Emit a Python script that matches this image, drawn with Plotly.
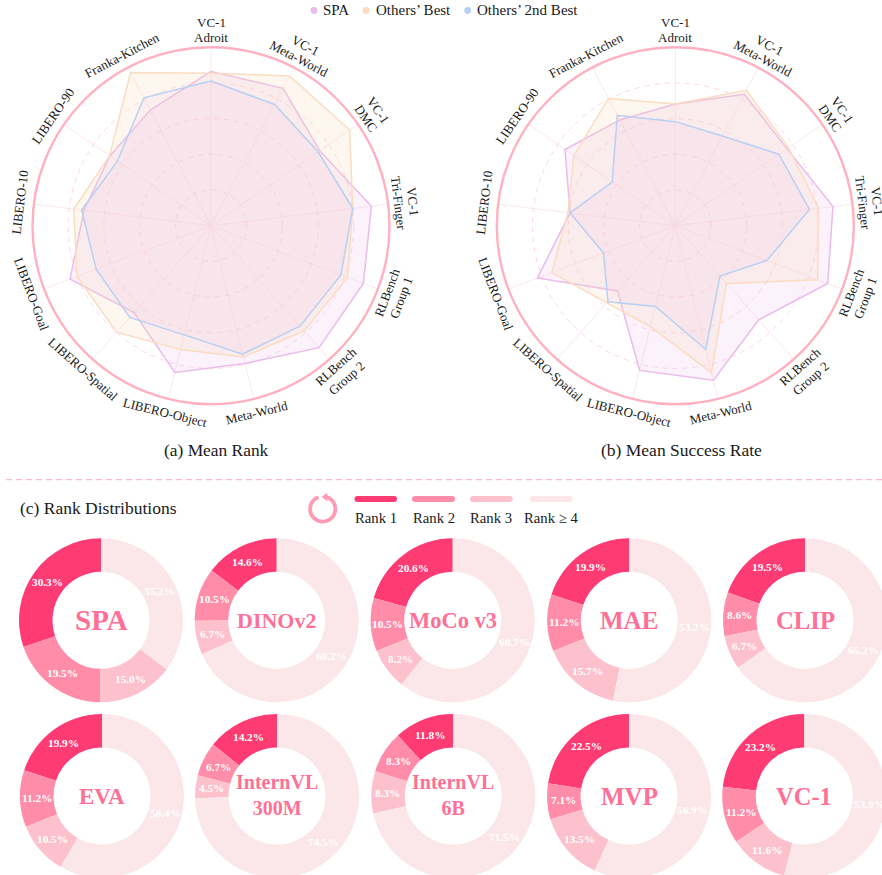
import math
import plotly.graph_objects as go

W, H = 890, 880
SERIF = "Liberation Serif"

radar_categories = ["VC-1<br>Adroit", "VC-1<br>Meta-World", "VC-1<br>DMC", "VC-1<br>Tri-Finger",
                    "RLBench<br>Group 1", "RLBench<br>Group 2", "Meta-World", "LIBERO-Object",
                    "LIBERO-Spatial", "LIBERO-Goal", "LIBERO-10", "LIBERO-90", "Franka-Kitchen"]

rank_spa = [.864, .869, .74, .905, .913, .913, .795, .847, .65, .844, .717, .688, .732]
rank_best = [.854, .947, .944, .80, .818, .787, .757, .715, .797, .803, .774, .69, .97]
rank_second = [.811, .767, .729, .80, .778, .752, .741, .63, .686, .688, .73, .637, .809]

succ_spa = [.682, .832, .76, .89, .913, .705, .892, .835, .488, .826, .594, .751, .669]
succ_best = [.682, .857, .77, .809, .853, .432, .849, .583, .577, .74, .606, .691, .805]
succ_second = [.583, .568, .705, .757, .549, .377, .714, .466, .569, .43, .594, .43, .699]

series_names = ["SPA", "Others’ Best", "Others’ 2nd Best"]
line_colors = ["#E9BCE9", "#FBDCC2", "#B9D0F3"]
fill_colors = ["rgba(235,190,235,0.20)", "rgba(250,215,180,0.20)", "rgba(245,193,231,0.16)"]

rank_names = ["Rank 1", "Rank 2", "Rank 3", "Rank ≥ 4"]
rank_colors = ["#FF3B74", "#FF8CA9", "#FDC0CD", "#FBE6EA"]

model_names = ["SPA", "DINOv2", "MoCo v3", "MAE", "CLIP",
               "EVA", "InternVL<br>300M", "InternVL<br>6B", "MVP", "VC-1"]
model_font = [29, 22, 22.5, 25, 24.7, 23, 20, 20, 25, 24.5]
rank_dist = [
    [30.3, 19.5, 15.0, 35.2],
    [14.6, 10.5, 6.7, 68.2],
    [20.6, 10.5, 8.2, 60.7],
    [19.9, 11.2, 15.7, 53.2],
    [19.5, 8.6, 6.7, 65.2],
    [19.9, 11.2, 10.5, 58.4],
    [14.2, 6.7, 4.5, 74.5],
    [11.8, 8.3, 8.3, 71.5],
    [22.5, 7.1, 13.5, 56.9],
    [23.2, 11.2, 11.6, 53.9],
]

def X(p):
    return p / W

def Y(p):
    return 1 - p / H

fig = go.Figure()
annotations = []
shapes = []

def note(px, py, text, size, color="#1a1a1a", angle=0, bold=False, xanchor="center"):
    if bold:
        text = f"<b>{text}</b>"
    annotations.append(dict(x=X(px), y=Y(py), xref="paper", yref="paper", text=text, showarrow=False,
                            xanchor=xanchor, yanchor="middle", textangle=angle,
                            font=dict(family=SERIF, size=size, color=color)))

RAD = 178.5
CY = 225.7
radars = [("polar", 211, [rank_spa, rank_best, rank_second]),
          ("polar2", 675.3, [succ_spa, succ_best, succ_second])]
n = len(radar_categories)
LINE_GAP = 15.3
for name, cx, series in radars:
    for vals, nm, lc, fc in zip(series, series_names, line_colors, fill_colors):
        fig.add_trace(go.Scatterpolar(
            r=vals + vals[:1], theta=radar_categories + radar_categories[:1],
            subplot=name, mode="lines", name=nm, fill="toself", fillcolor=fc,
            line=dict(color=lc, width=1.5), showlegend=False, hoverinfo="skip"))
    fig.layout[name] = dict(
        domain=dict(x=[X(cx - RAD), X(cx + RAD)], y=[Y(CY + RAD), Y(CY - RAD)]),
        bgcolor="white",
        radialaxis=dict(range=[0, 1], tickvals=[.2, .4, .6, .8], showticklabels=False, ticks="",
                        showline=False, gridcolor="#FFD6E0", griddash="5px,5px", gridwidth=1.3),
        angularaxis=dict(type="category", categoryorder="array", categoryarray=radar_categories,
                         direction="clockwise", rotation=90, showticklabels=False, ticks="",
                         showline=True, linecolor="#FFB1C1", linewidth=2.4,
                         gridcolor="#FCE8ED", gridwidth=1),
    )
    for i, lab in enumerate(radar_categories):
        deg = 360 * i / n
        if deg <= 90:
            ang = deg
        elif deg < 270:
            ang = deg - 180
        else:
            ang = deg - 360
        parts = lab.split("<br>")
        # line 0 is the upper line in the label's own reading frame
        up = 1 if (deg <= 90 or deg >= 270) else -1
        base = 196 if len(parts) == 2 else 192.5
        for j, part in enumerate(parts):
            off = (0.5 - j) * LINE_GAP * up if len(parts) == 2 else 0
            rr = base + off
            px = cx + rr * math.sin(math.radians(deg))
            py = CY - rr * math.cos(math.radians(deg))
            note(px, py, part, 13, angle=ang)

note(216.7, 450, "(a) Mean Rank", 17.4)
note(681, 450, "(b) Mean Success Rate", 17.5)
note(17.5, 508, "(c) Rank Distributions", 17.5, xanchor="left")

# top legend
legend_dots = [(314, 320.5), (366, 373.5), (467.7, 474.5)]
for (dx, tx), nm, lc in zip(legend_dots, series_names, line_colors):
    shapes.append(dict(type="circle", xref="paper", yref="paper", x0=X(dx - 3.4), x1=X(dx + 3.4),
                       y0=Y(10.5 + 3.4), y1=Y(10.5 - 3.4), fillcolor=lc, line=dict(width=0)))
    note(tx, 10, nm, 15, xanchor="left")

# divider
shapes.append(dict(type="line", xref="paper", yref="paper", x0=X(6), x1=X(882), y0=Y(479.7), y1=Y(479.7),
                   line=dict(color="#FFB6C8", width=1.2, dash="6px,4px")))

# rank legend bars
def rounded_bar(x0, x1, yc, h):
    r = h / 2
    return (f"M {X(x0 + r)} {Y(yc - r)} L {X(x1 - r)} {Y(yc - r)} "
            f"Q {X(x1)} {Y(yc - r)} {X(x1)} {Y(yc)} Q {X(x1)} {Y(yc + r)} {X(x1 - r)} {Y(yc + r)} "
            f"L {X(x0 + r)} {Y(yc + r)} Q {X(x0)} {Y(yc + r)} {X(x0)} {Y(yc)} "
            f"Q {X(x0)} {Y(yc - r)} {X(x0 + r)} {Y(yc - r)} Z")

bar_spans = [(354.5, 397), (412, 455), (470, 512.7), (530, 572.7)]
label_centers = [375.5, 433.5, 491, 551]
for (x0, x1), c, nm, lc in zip(bar_spans, rank_colors, rank_names, label_centers):
    shapes.append(dict(type="path", xref="paper", yref="paper", path=rounded_bar(x0, x1, 499, 6),
                       fillcolor=c, line=dict(width=0)))
    note(lc, 517.5, nm, 14.7)

# cycle icon
ICX, ICY, ICR = 322.7, 509, 12.6
pts = []
for k in range(0, 61):
    a = math.radians(15 + (340 - 15) * k / 60)
    pts.append((ICX + ICR * math.sin(a), ICY - ICR * math.cos(a)))
arc = "M " + " L ".join(f"{X(a)} {Y(b)}" for a, b in pts)
shapes.append(dict(type="path", xref="paper", yref="paper", path=arc,
                   line=dict(color="#FF9BB3", width=3.8), fillcolor="rgba(0,0,0,0)"))
tri = [(321.6, 496.8), (327.4, 492.8), (327.4, 501.6)]
shapes.append(dict(type="path", xref="paper", yref="paper",
                   path="M " + " L ".join(f"{X(a)} {Y(b)}" for a, b in tri) + " Z",
                   fillcolor="#FF9BB3", line=dict(width=0)))

# doughnuts
R_OUT, R_IN = 82, 48.5
col_x = [[101, 276.7, 452.7, 629.3, 805], [102, 277, 453.3, 629, 804.3]]
row_y = [620.3, 796]
for idx, (nm, fs, dist) in enumerate(zip(model_names, model_font, rank_dist)):
    row, col = divmod(idx, 5)
    cx, cy = col_x[row][col], row_y[row]
    total = sum(dist)
    fig.add_trace(go.Pie(
        values=dist, labels=rank_names, sort=False, direction="counterclockwise",
        rotation=360 - dist[0] / total * 360,
        hole=R_IN / R_OUT, textinfo="none", hoverinfo="skip", showlegend=False,
        marker=dict(colors=rank_colors, line=dict(width=0)),
        domain=dict(x=[X(cx - R_OUT), X(cx + R_OUT)], y=[Y(cy + R_OUT), Y(cy - R_OUT)])))
    note(cx, cy + (0 if "<br>" not in nm else -1), nm, fs, color="#FF7096", bold=True)
    cum = 0
    for v in dist:
        mid = (cum + v / 2) / total * 2 * math.pi
        cum += v
        note(cx - 65.5 * math.sin(mid), cy - 65.5 * math.cos(mid), f"{v:.1f}%", 11.3, color="white", bold=True)

fig.update_layout(width=W, height=H, margin=dict(l=0, r=0, t=0, b=0), paper_bgcolor="white",
                  plot_bgcolor="white", showlegend=False, annotations=annotations, shapes=shapes,
                  autosize=False)
fig.write_html("out.html", config=dict(displayModeBar=False),
               post_script="document.documentElement.style.overflow='hidden';document.body.style.margin='0';document.body.style.overflow='hidden';")
